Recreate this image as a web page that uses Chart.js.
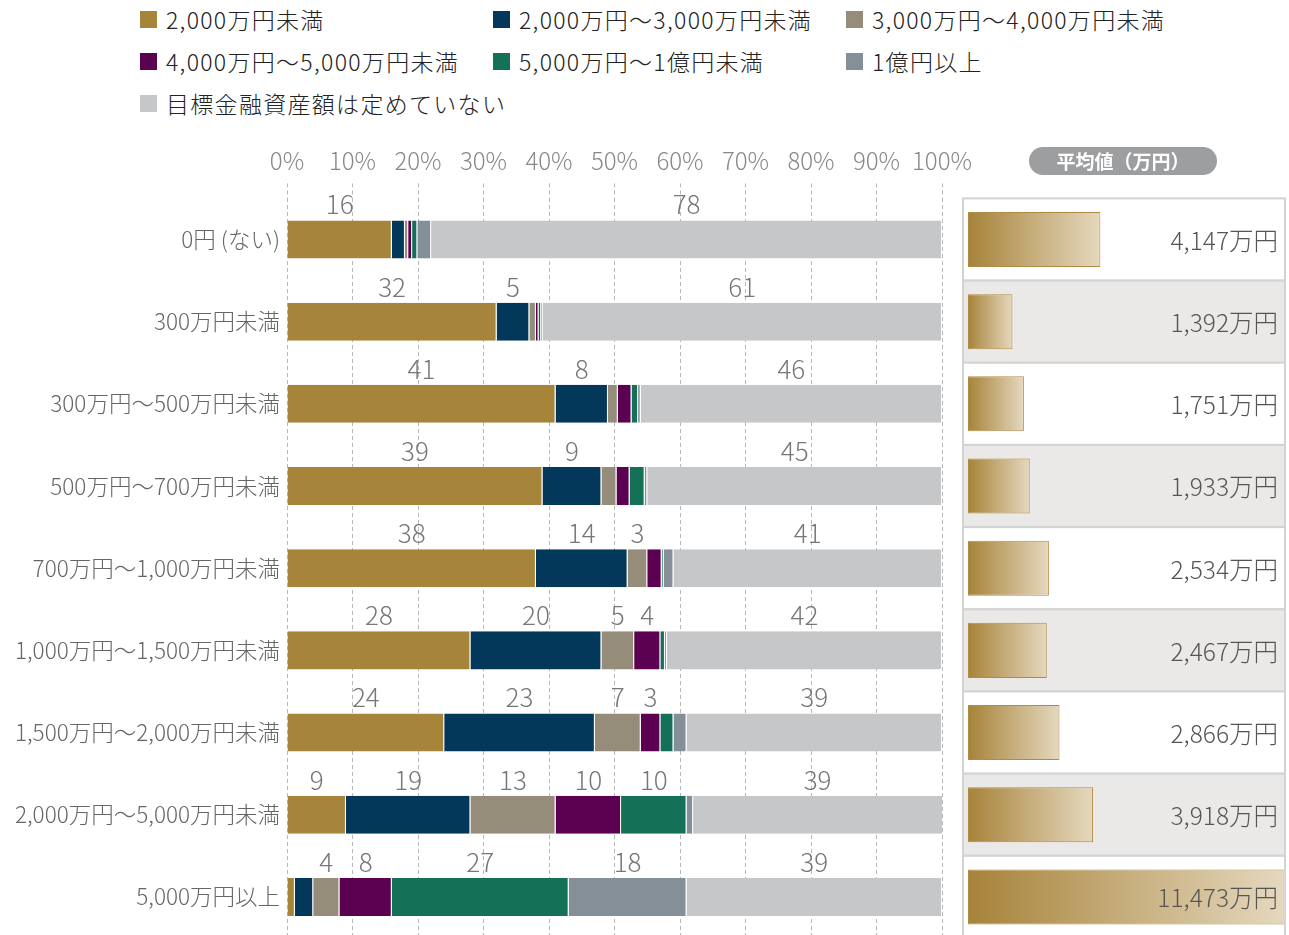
<!DOCTYPE html>
<html lang="ja">
<head>
<meta charset="utf-8">
<title>目標金融資産額（年収別）</title>
<script src="https://cdn.jsdelivr.net/npm/chart.js@4.4.1/dist/chart.umd.min.js"></script>
<style>
body{margin:0;width:1289px;height:935px;overflow:hidden;background:#fff;position:relative;font-family:'Noto Sans CJK JP',sans-serif}
.key{position:absolute;display:flex;align-items:center;font-size:23px;font-weight:300;color:#222;letter-spacing:1.3px;white-space:nowrap;transform:translateY(-50%)}
.key i{display:inline-block;width:17px;height:17px;margin-right:9px}
#pill{position:absolute;left:1029px;top:147px;width:188px;height:28px;border-radius:14px;background:#9c9ea0;color:#fff;font-size:19px;font-weight:bold;line-height:28px;text-align:center}
#bars{position:absolute;left:0;top:0}
#avg{position:absolute;left:962px;top:0}
</style>
</head>
<body>
<div id="legend"></div>
<canvas id="bars" width="975" height="938"></canvas>
<canvas id="avg" width="327" height="938"></canvas>
<div id="pill">平均値（万円）</div>
<script>
const categories = ['0円 (ない)', '300万円未満', '300万円～500万円未満', '500万円～700万円未満',
  '700万円～1,000万円未満', '1,000万円～1,500万円未満', '1,500万円～2,000万円未満',
  '2,000万円～5,000万円未満', '5,000万円以上'];

const seriesNames = ['2,000万円未満', '2,000万円～3,000万円未満', '3,000万円～4,000万円未満',
  '4,000万円～5,000万円未満', '5,000万円～1億円未満', '1億円以上', '目標金融資産額は定めていない'];
const seriesColors = ['#a6843a', '#03385a', '#958c79', '#5c0051', '#147157', '#848f97', '#c6c7c9'];

// 構成比 (%)
const under2000 = [16, 32, 41, 39, 38, 28, 24, 9, 1.2];
const from2000to3000 = [2, 5, 8, 9, 14, 20, 23, 19, 2.8];
const from3000to4000 = [0.5, 1, 1.5, 2.3, 3, 5, 7, 13, 4];
const from4000to5000 = [0.6, 0.4, 2.1, 2, 2.2, 4, 3, 10, 8];
const from5000to1oku = [0.8, 0.4, 1, 2.3, 0.3, 0.7, 2, 10, 27];
const over1oku = [2.1, 0.2, 0.4, 0.4, 1.5, 0.3, 2, 1, 18];
const undecided = [78, 61, 46, 45, 41, 42, 39, 39, 39];

// 平均値 (万円)
const averages = [4147, 1392, 1751, 1933, 2534, 2467, 2866, 3918, 11473];

const pctTicks = ['0%', '10%', '20%', '30%', '40%', '50%', '60%', '70%', '80%', '90%', '100%'];

const series = [under2000, from2000to3000, from3000to4000, from4000to5000, from5000to1oku, over1oku, undecided];
const FONT = "'Noto Sans CJK JP', sans-serif";

// legend: 3 columns
const legendEl = document.getElementById('legend');
const colX = [140, 493, 846], rowY = [19, 61, 103];
seriesNames.forEach((name, i) => {
  const d = document.createElement('div');
  d.className = 'key';
  d.style.left = colX[i % 3] + 'px';
  d.style.top = rowY[Math.floor(i / 3)] + 'px';
  d.innerHTML = '<i style="background:' + seriesColors[i] + '"></i>' + name;
  legendEl.appendChild(d);
});

// numbers above each segment (3% or more)
const segmentLabels = {
  id: 'segmentLabels',
  afterDatasetsDraw(chart) {
    const ctx = chart.ctx;
    ctx.save();
    ctx.font = '300 26px ' + FONT;
    ctx.fillStyle = '#777';
    ctx.textAlign = 'center';
    ctx.textBaseline = 'middle';
    chart.data.datasets.forEach((ds, i) => {
      chart.getDatasetMeta(i).data.forEach((bar, j) => {
        const v = ds.data[j];
        if (v < 3) return;
        const right = Math.min(bar.x, chart.chartArea.right);
        ctx.fillText(String(v), (bar.base + right) / 2, bar.y - bar.height / 2 - 16);
      });
    });
    ctx.restore();
  }
};

new Chart(document.getElementById('bars'), {
  type: 'bar',
  data: {
    labels: categories,
    datasets: series.map((data, i) => ({
      label: seriesNames[i],
      data: data,
      backgroundColor: seriesColors[i],
      borderColor: '#fff',
      borderWidth: {top: 0, bottom: 0, left: 0, right: 1},
      borderSkipped: false,
      barPercentage: 0.463,
      categoryPercentage: 1
    }))
  },
  options: {
    indexAxis: 'y',
    responsive: false,
    animation: false,
    layout: {padding: {top: 0, left: 0, right: 33, bottom: 0}},
    plugins: {legend: {display: false}, tooltip: {enabled: false}},
    scales: {
      x: {
        position: 'top',
        stacked: true,
        min: 0,
        max: 100,
        ticks: {stepSize: 10, padding: 8, color: '#888', maxRotation: 0, minRotation: 0, autoSkip: false,
          font: {family: FONT, size: 24, weight: 300},
          callback: (v, i) => pctTicks[i]},
        grid: {color: '#b8b8b8', tickLength: 15, tickColor: '#b8b8b8', tickBorderDash: [4, 3]},
        border: {display: false, dash: [4, 3]},
        afterFit: s => { s.height = 198.4; s.paddingLeft = 0; s.paddingRight = 0; }
      },
      y: {
        stacked: true,
        ticks: {padding: 7, color: '#666', font: {family: FONT, size: 22.5, weight: 300}},
        grid: {display: false, drawTicks: false},
        border: {display: false},
        afterFit: s => { s.width = 287; s.paddingTop = 0; s.paddingBottom = 0; }
      }
    }
  },
  plugins: [segmentLabels]
});

// average panel
function goldFill(c) {
  const chart = c.chart, area = chart.chartArea;
  if (!area || c.type !== 'data') return '#a6843a';
  const x = chart.scales.x;
  const x0 = x.getPixelForValue(0);
  const x1 = Math.min(x.getPixelForValue(c.raw), area.right);
  const g = chart.ctx.createLinearGradient(x0, 0, x1, 0);
  g.addColorStop(0, '#a7833a');
  g.addColorStop(1, '#e5d8be');
  return g;
}

const rowPanel = {
  id: 'rowPanel',
  beforeDatasetsDraw(chart) {
    const {ctx, chartArea, scales: {y}} = chart;
    const band = (chartArea.bottom - chartArea.top) / categories.length;
    ctx.save();
    ctx.lineWidth = 2;
    ctx.strokeStyle = '#d3d3d3';
    categories.forEach((c, i) => {
      const top = y.getPixelForValue(i) - band / 2;
      ctx.fillStyle = i % 2 ? '#ebe9e7' : '#fff';
      ctx.fillRect(1, top, 322, band);
      ctx.strokeRect(1, top, 322, band);
    });
    ctx.restore();
  }
};

const avgLabels = {
  id: 'avgLabels',
  afterDatasetsDraw(chart) {
    const ctx = chart.ctx;
    ctx.save();
    ctx.font = '300 24.5px ' + FONT;
    ctx.fillStyle = '#555';
    ctx.textAlign = 'right';
    ctx.textBaseline = 'middle';
    chart.getDatasetMeta(0).data.forEach((bar, j) => {
      ctx.fillText(averages[j].toLocaleString('ja-JP') + '万円', chart.chartArea.right - 6, bar.y + 1);
    });
    ctx.restore();
  }
};

new Chart(document.getElementById('avg'), {
  type: 'bar',
  data: {
    labels: categories,
    datasets: [{
      data: averages,
      backgroundColor: goldFill,
      borderColor: '#b08b43',
      borderWidth: 1,
      borderSkipped: false,
      barPercentage: 0.67,
      categoryPercentage: 1
    }]
  },
  options: {
    indexAxis: 'y',
    responsive: false,
    animation: false,
    layout: {padding: {top: 198.4, left: 6, right: 5, bottom: 0}},
    plugins: {legend: {display: false}, tooltip: {enabled: false}},
    scales: {
      x: {display: false, min: 0, max: 9900},
      y: {display: false}
    }
  },
  plugins: [rowPanel, avgLabels]
});
</script>
</body>
</html>
